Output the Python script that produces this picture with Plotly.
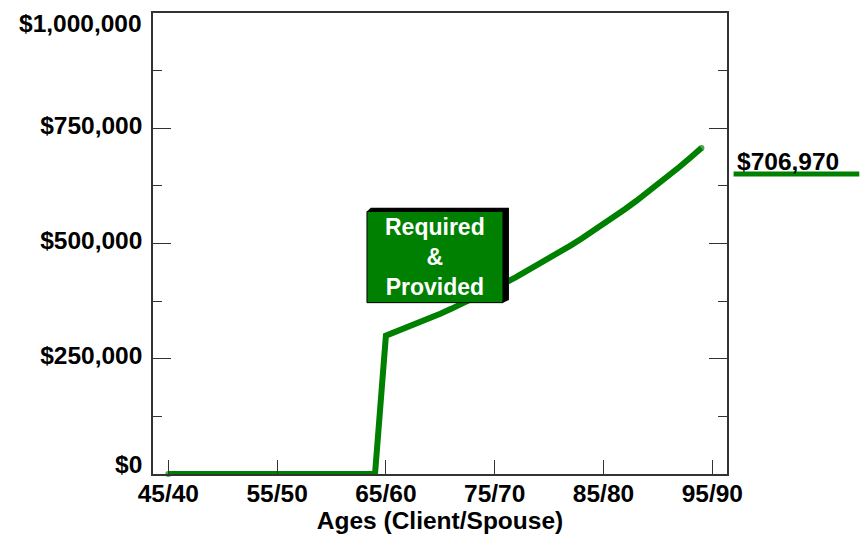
import plotly.graph_objects as go

# Ages of the client (spouse is five years younger)
client_ages = list(range(45, 95))
# Projected capital (USD) at each age
capital = [
    0, 0, 0, 0, 0, 0, 0, 0, 0, 0,
    0, 0, 0, 0, 0, 0, 0, 0, 0, 0,
    300000, 309000, 318300, 327800, 337700, 347800, 358200, 369000, 380000, 391400,
    403200, 415300, 427700, 440600, 453800, 467400, 481400, 495900, 510700, 526100,
    541900, 558100, 574800, 592100, 609900, 628200, 647000, 666400, 686400, 706970,
]
tick_ages = [45, 55, 65, 75, 85, 95]
tick_labels = ["45/40", "55/50", "65/60", "75/70", "85/80", "95/90"]
y_ticks = [0, 250000, 500000, 750000, 1000000]
y_labels = ["$0", "$250,000", "$500,000", "$750,000", "$1,000,000"]
final_value = capital[-1]

GREEN = "#008000"
FONT = "Liberation Sans"
SIZE = 24.5
bold = dict(family=FONT, size=SIZE, color="black", weight="bold")

# Round the line ends with dots at the first and last point only
cap_sizes = [6 if i in (0, len(capital) - 1) else 0 for i in range(len(capital))]

fig = go.Figure()
fig.add_trace(go.Scatter(
    x=client_ages, y=capital, mode="lines+markers",
    line=dict(color=GREEN, width=6),
    marker=dict(color=GREEN, size=cap_sizes, line=dict(width=0)),
    cliponaxis=False, hoverinfo="skip", showlegend=False,
))

# Callout box with a bevelled black shadow
bx0, bx1, by0, by1 = 63.26, 75.76, 371700, 569600
fig.add_shape(type="path", xref="x", yref="y", layer="above",
              path=f"M {bx0},{by1} L {bx0+0.35},{by1+8000} L {bx1+0.55},{by1+8000} "
                   f"L {bx1+0.55},{by0+6000} L {bx1},{by0} Z",
              fillcolor="black", line=dict(width=0))
fig.add_shape(type="rect", xref="x", yref="y", layer="above",
              x0=bx0, x1=bx1, y0=by0, y1=by1,
              fillcolor=GREEN, line=dict(color="black", width=1))
fig.add_annotation(x=(bx0 + bx1) / 2, y=(by0 + by1) / 2, xref="x", yref="y",
                   text="Required<br>&<br>Provided", showarrow=False,
                   font=dict(family=FONT, size=23, color="white", weight="bold"))

# Final value label with underline, outside the plot area
fig.add_annotation(x=1.0145, y=final_value, xref="paper", yref="y", xanchor="left",
                   yanchor="middle", yshift=-13, text=f"${final_value:,}", showarrow=False,
                   font=bold)
fig.add_shape(type="line", xref="paper", yref="y", ysizemode="pixel", yanchor=final_value,
              x0=1.0115, x1=1.2305, y0=-26, y1=-26,
              line=dict(color=GREEN, width=5))

# End labels of the value axis sit inside the axis span
inner_text = [t if v not in (y_ticks[0], y_ticks[-1]) else "" for v, t in zip(y_ticks, y_labels)]
fig.add_annotation(x=0, y=y_ticks[0], xref="paper", yref="y", xanchor="right",
                   yanchor="bottom", xshift=-9, yshift=-6, text=y_labels[0],
                   showarrow=False, font=bold)
fig.add_annotation(x=0, y=y_ticks[-1], xref="paper", yref="y", xanchor="right",
                   yanchor="top", xshift=-9, yshift=5, text=y_labels[-1],
                   showarrow=False, font=bold)

fig.update_layout(
    width=863, height=535,
    margin=dict(l=153, r=136, t=13, b=61, autoexpand=False),
    paper_bgcolor="white", plot_bgcolor="white",
    font=dict(family=FONT, size=SIZE, color="black"),
    xaxis=dict(
        range=[43.594, 96.351], tickvals=tick_ages, ticktext=tick_labels,
        ticks="inside", ticklen=14, tickwidth=1, tickcolor="#333",
        showline=True, linecolor="#333", linewidth=1.5, mirror=True,
        showgrid=False, zeroline=False, automargin=False,
        ticklabelstandoff=-3, ticklabeloverflow="allow",
        tickfont=bold,
        title=dict(text="Ages (Client/Spouse)", standoff=4, font=bold),
    ),
    yaxis=dict(
        range=[0, 1000000], tickvals=y_ticks, ticktext=inner_text,
        ticks="inside", ticklen=18, tickwidth=1, tickcolor="#333",
        minor=dict(dtick=125000, tick0=0, ticks="inside", ticklen=9,
                   tickwidth=1, tickcolor="#333", showgrid=False),
        showline=True, linecolor="#333", linewidth=1.5, mirror="allticks",
        showgrid=False, zeroline=False, ticklabelstandoff=4, ticklabelshift=-3,
        automargin=False, ticklabeloverflow="allow",
        tickfont=bold,
    ),
)

fig.write_html("out.html")
